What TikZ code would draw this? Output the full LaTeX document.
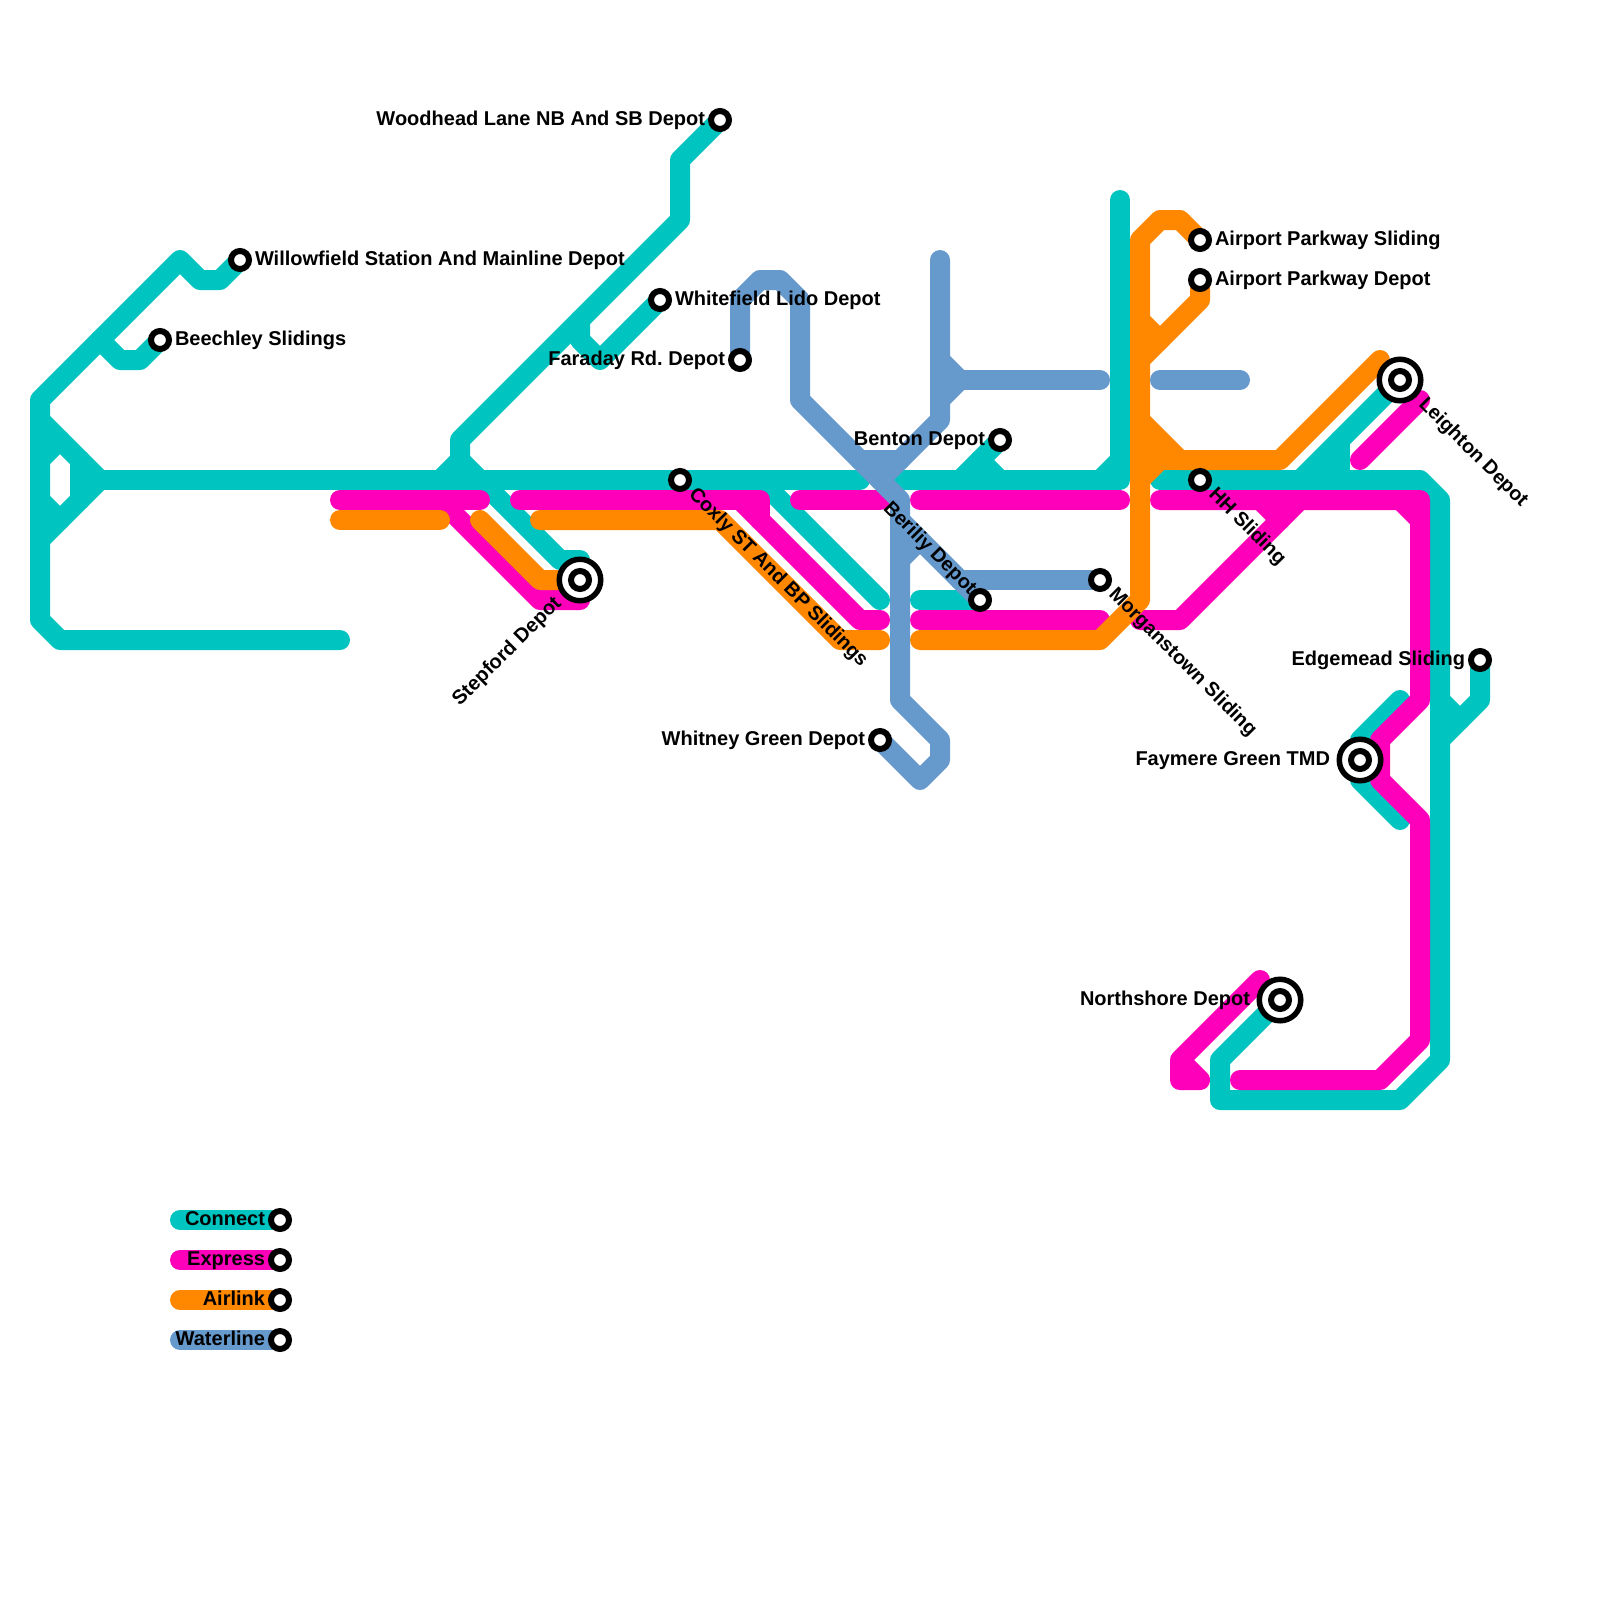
\documentclass[tikz,border=0pt]{standalone}
\usepackage{fontspec}
\setmainfont{Liberation Sans}
\frenchspacing
\definecolor{cyanline}{RGB}{0,196,192}
\definecolor{magline}{RGB}{255,0,186}
\definecolor{orline}{RGB}{255,136,0}
\definecolor{blline}{RGB}{102,153,204}
\tikzset{
  metro/.style={line width=20pt,line cap=round,line join=round},
  connect/.style={metro,draw=cyanline},
  express/.style={metro,draw=magline},
  airlink/.style={metro,draw=orline},
  waterline/.style={metro,draw=blline},
  stn/.style={circle,draw=black,fill=white,line width=6pt,inner sep=0pt,outer sep=0pt,minimum size=18pt},
  hubring/.style={circle,draw=black,fill=white,line width=5.5pt,inner sep=0pt,outer sep=0pt,minimum size=41.5pt},
  lbl/.style={inner sep=0pt,outer sep=0pt,text=black,font=\fontsize{20}{24}\selectfont\bfseries},
  lblr/.style={lbl,anchor=base west},
  lbll/.style={lbl,anchor=base east},
  lbld/.style={lbl,font=\fontsize{19.8}{24}\selectfont\bfseries,rotate=-45},
}
\begin{document}
\begin{tikzpicture}[x=1pt,y=-1pt]
\useasboundingbox (0,0) rectangle (1600,1600);
% stations
\coordinate (sWillow) at (240,260);
\coordinate (sBeech) at (160,340);
\coordinate (sWood) at (720,120);
\coordinate (sWhite) at (660,300);
\coordinate (sFara) at (740,360);
\coordinate (sCoxly) at (680,480);
\coordinate (sStep) at (580,580);
\coordinate (sBenton) at (1000,440);
\coordinate (sBerily) at (980,600);
\coordinate (sMorg) at (1100,580);
\coordinate (sWhitney) at (880,740);
\coordinate (sAirS) at (1200,240);
\coordinate (sAirD) at (1200,280);
\coordinate (sHH) at (1200,480);
\coordinate (sLeigh) at (1400,380);
\coordinate (sEdge) at (1480,660);
\coordinate (sFay) at (1360,760);
\coordinate (sNorth) at (1280,1000);
\coordinate (lgA) at (280,1220);
\coordinate (lgB) at (280,1260);
\coordinate (lgC) at (280,1300);
\coordinate (lgD) at (280,1340);
% Connect
\draw[connect] (sWillow) -- (220,280) -- (200,280) -- (180,260) -- (40,400) -- (40,620) -- (60,640) -- (340,640);
\draw[connect] (sBeech) -- (140,360) -- (120,360) -- (100,340);
\draw[connect] (40,420) -- (100,480) -- (40,540);
\draw[connect] (80,460) -- (80,500);
\draw[connect] (40,460) -- (60,440);
\draw[connect] (40,500) -- (60,520);
\draw[connect] (100,480) -- (860,480);
\draw[connect] (sWood) -- (680,160) -- (680,220) -- (460,440) -- (460,460);
\draw[connect] (440,480) -- (460,460) -- (480,480) -- (560,560) -- (580,560);
\draw[connect] (580,320) -- (580,340) -- (600,360) -- (sWhite);
\draw[connect] (760,480) -- (880,600);
\draw[connect] (900,480) -- (1120,480) -- (1120,200);
\draw[connect] (1100,480) -- (1120,460);
\draw[connect] (960,480) -- (sBenton);
\draw[connect] (980,460) -- (1000,480);
\draw[connect] (920,600) -- (sBerily);
\draw[connect] (1160,480) -- (1420,480) -- (1440,500) -- (1440,1060) -- (1400,1100) -- (1220,1100) -- (1220,1060) -- (sNorth);
\draw[connect] (1300,480) -- (sLeigh);
\draw[connect] (1340,440) -- (1340,480);
\draw[connect] (1320,470) -- (1340,460);
\draw[connect] (1440,700) -- (1460,720);
\draw[connect] (sEdge) -- (1480,700) -- (1440,740);
\draw[connect] (1400,700) -- (1360,740) -- (1360,780) -- (1400,820);
% Express
\draw[express] (340,500) -- (480,500);
\draw[express] (440,500) -- (540,600) -- (580,600);
\draw[express] (520,500) -- (760,500) -- (760,520);
\draw[express] (740,500) -- (860,620) -- (880,620);
\draw[express] (800,500) -- (880,500);
\draw[express] (920,500) -- (1120,500);
\draw[express] (920,620) -- (1100,620);
\draw[express] (1160,500) -- (1420,500) -- (1420,700) -- (1380,740) -- (1380,780) -- (1420,820) -- (1420,1040) -- (1380,1080) -- (1240,1080);
\draw[express] (1400,500) -- (1420,520);
\draw[express] (1260,500) -- (1280,520);
\draw[express] (1300,500) -- (1180,620) -- (1140,620);
\draw[express] (1360,460) -- (1420,400);
\draw[express] (1260,980) -- (1180,1060) -- (1180,1080) -- (1200,1080) -- (1180,1060);
% Airlink
\draw[airlink] (340,520) -- (440,520);
\draw[airlink] (480,520) -- (540,580) -- (580,580);
\draw[airlink] (540,520) -- (720,520) -- (840,640) -- (880,640);
\draw[airlink] (920,640) -- (1100,640) -- (1140,600) -- (1140,240) -- (1160,220) -- (1180,220) -- (sAirS);
\draw[airlink] (sAirD) -- (1200,300) -- (1140,360);
\draw[airlink] (1140,320) -- (1160,340);
\draw[airlink] (1140,420) -- (1180,460) -- (1280,460) -- (1380,360);
\draw[airlink] (1140,460) -- (1180,460);
\draw[airlink] (1145,445) -- (1165,450);
\draw[airlink] (1160,460) -- (1140,480);
% Waterline
\draw[waterline] (sFara) -- (740,300) -- (760,280) -- (780,280) -- (800,300) -- (800,400) -- (900,500) -- (900,700) -- (940,740) -- (940,760) -- (920,780) -- (sWhitney);
\draw[waterline] (900,520) -- (sBerily);
\draw[waterline] (900,560) -- (920,540);
\draw[waterline] (960,580) -- (sMorg);
\draw[waterline] (940,260) -- (940,420) -- (880,480);
\draw[waterline] (860,460) -- (900,460);
\draw[waterline] (940,360) -- (960,380) -- (940,400);
\draw[waterline] (960,380) -- (1100,380);
\draw[waterline] (1160,380) -- (1240,380);
% legend lines
\draw[connect] (180,1220) -- (lgA);
\draw[express] (180,1260) -- (lgB);
\draw[airlink] (180,1300) -- (lgC);
\draw[waterline] (180,1340) -- (lgD);
% station markers
\node[hubring] (hStep) at (sStep) {};
\node[hubring] (hLeigh) at (sLeigh) {};
\node[hubring] (hFay) at (sFay) {};
\node[hubring] (hNorth) at (sNorth) {};
\foreach \n in {sWillow,sBeech,sWood,sWhite,sFara,sCoxly,sStep,sBenton,sBerily,sMorg,sWhitney,sAirS,sAirD,sHH,sLeigh,sEdge,sFay,sNorth,lgA,lgB,lgC,lgD}
  \node[stn] (m\n) at (\n) {};
% labels
\node[lblr] (tWillow) at (255,265.5) {Willowfield Station And Mainline Depot};
\node[lblr] (tBeech) at (175,345.5) {Beechley Slidings};
\node[lbll] (tWood) at (705,125.5) {Woodhead Lane NB And SB Depot};
\node[lblr] (tWhite) at (675,305.5) {Whitefield Lido Depot};
\node[lbll] (tFara) at (725,365.5) {Faraday Rd. Depot};
\node[lbll] (tBenton) at (985,445.5) {Benton Depot};
\node[lbll] (tWhitney) at (865,745.5) {Whitney Green Depot};
\node[lblr] (tAirS) at (1215,245.5) {Airport Parkway Sliding};
\node[lblr] (tAirD) at (1215,285.5) {Airport Parkway Depot};
\node[lbll] (tEdge) at (1465,665.5) {Edgemead Sliding};
\node[lbll] (tFay) at (1330,765.5) {Faymere Green TMD};
\node[lbll] (tNorth) at (1250,1005.5) {Northshore Depot};
\node[lbld,anchor=base west] (tCoxly) at (688,495) {Coxly ST And BP Slidings};
\node[lbld,anchor=base west] (tMorg) at (1108,595) {Morganstown Sliding};
\node[lbld,anchor=base west] (tHH) at (1208,495) {HH Sliding};
\node[lbld,anchor=base west] (tLeigh) at (1418,405) {Leighton Depot};
\node[lbld,anchor=base east] (tBerily) at (969,595.4) {Beriliy Depot};
\node[lbll,rotate=45] (tStep) at (562,604.4) {Stepford Depot};
\node[lbll] (tA) at (265,1225.5) {Connect};
\node[lbll] (tB) at (265,1265.5) {Express};
\node[lbll] (tC) at (265,1305.5) {Airlink};
\node[lbll] (tD) at (265,1345.5) {Waterline};
\end{tikzpicture}
\end{document}
